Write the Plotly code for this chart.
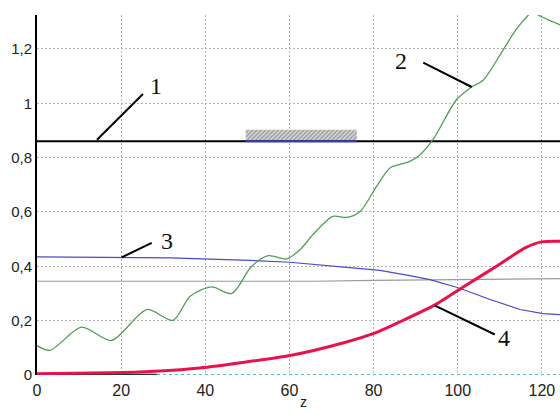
import plotly.graph_objects as go

# ---- data ----
z_green = [0, 3.1, 10.6, 17.7, 26.1, 32.3, 36.4, 41.5, 46.3, 51.0, 55.0, 59.3, 62.5, 65.6, 70.3, 73.6,
           76.8, 80.7, 83.9, 87.0, 88.6, 91.0, 94.1, 99.7, 103.3, 106.1, 110.8, 113.8, 116.8, 117.9, 119.1, 124.3]
v_green = [0.108, 0.091, 0.176, 0.127, 0.241, 0.201, 0.290, 0.324, 0.300, 0.400, 0.439, 0.427, 0.461, 0.517, 0.584, 0.580,
           0.602, 0.694, 0.762, 0.778, 0.786, 0.810, 0.866, 1.013, 1.060, 1.086, 1.197, 1.270, 1.325, 1.340, 1.325, 1.289]

z_blue = [0, 31.6, 50.6, 60.1, 73.6, 81.5, 88.6, 93.4, 100.1, 107.7, 114.8, 120.3, 124.3]
v_blue = [0.435, 0.431, 0.422, 0.415, 0.396, 0.385, 0.366, 0.351, 0.321, 0.278, 0.241, 0.226, 0.222]

z_red = [0, 17.3, 28.0, 38.7, 60.1, 72.7, 80.7, 86.3, 94.6, 101.3, 109.2, 116.0, 119.9, 124.3]
v_red = [0.005, 0.008, 0.014, 0.026, 0.072, 0.118, 0.157, 0.196, 0.258, 0.324, 0.400, 0.468, 0.490, 0.492]

z_grey = [0, 66, 80, 100, 124.3]
v_grey = [0.345, 0.345, 0.348, 0.352, 0.355]

z_black = [0, 124.3]
v_black = [0.86, 0.86]

z_teal = [0, 124.3]
v_teal = [0.0, 0.0]

z_dark = [0, 28.5]
v_dark = [0.001, 0.001]

z_rect = [49.6, 76.0, 76.0, 49.6, 49.6]
v_rect = [0.86, 0.86, 0.903, 0.903, 0.86]
z_rect_base = [49.6, 76.0]
v_rect_base = [0.86, 0.86]

x_ticks = [0, 20, 40, 60, 80, 100, 120]
y_ticks = [0, 0.2, 0.4, 0.6, 0.8, 1.0, 1.2]
y_ticktext = ["0", "0,2", "0,4", "0,6", "0,8", "1", "1,2"]
x_title = "z"

labels = ["1", "2", "3", "4"]
label_pos = [(28.4, 1.062), (86.4, 1.154), (30.8, 0.492), (111.0, 0.137)]
leaders = [((14.26, 0.866), (25.19, 1.034)),
           ((91.8, 1.150), (103.3, 1.060)),
           ((20.13, 0.433), (27.26, 0.486)),
           ((94.6, 0.2555), (108.8, 0.149))]

SANS = "Arial, Liberation Sans, sans-serif"
SERIF = "Times New Roman, Liberation Serif, serif"

fig = go.Figure()

fig.add_trace(go.Scatter(x=z_rect, y=v_rect, fill="toself", mode="none",
                         fillcolor="rgba(0,0,0,0)",
                         fillpattern=dict(shape="/", fgcolor="#555", bgcolor="#d4d4d4", size=3, solidity=0.4),
                         hoverinfo="skip"))
fig.add_trace(go.Scatter(x=z_grey, y=v_grey, mode="lines", line=dict(color="#9a9a9a", width=1.2)))
fig.add_trace(go.Scatter(x=z_black, y=v_black, mode="lines", line=dict(color="#000", width=2)))
fig.add_trace(go.Scatter(x=z_rect_base, y=v_rect_base, mode="lines", line=dict(color="#3a3ac8", width=2)))
fig.add_trace(go.Scatter(x=z_blue, y=v_blue, mode="lines", line=dict(color="#4a4ad0", width=1.2)))
fig.add_trace(go.Scatter(x=z_green, y=v_green, mode="lines", line=dict(color="#4f9f55", width=1.3, shape="spline", smoothing=0.8)))
fig.add_trace(go.Scatter(x=z_teal, y=v_teal, mode="lines", line=dict(color="#44c2c2", width=2, dash="dot")))
fig.add_trace(go.Scatter(x=z_dark, y=v_dark, mode="lines", line=dict(color="#1a3a2a", width=2)))
fig.add_trace(go.Scatter(x=z_red, y=v_red, mode="lines", line=dict(color="#e8124c", width=3, shape="spline", smoothing=0.6)))

for txt, (lx, ly), ((x0, y0), (x1, y1)) in zip(labels, label_pos, leaders):
    fig.add_annotation(x=lx, y=ly, text=txt, showarrow=False, xref="x", yref="y",
                       font=dict(family=SERIF, size=24, color="#111"))
    fig.add_shape(type="line", x0=x0, y0=y0, x1=x1, y1=y1, xref="x", yref="y",
                  line=dict(color="#000", width=2))

fig.add_annotation(x=0.5, y=0, xref="paper", yref="paper", text=x_title, showarrow=False,
                   yanchor="bottom", yshift=-36, xshift=5, borderpad=0,
                   font=dict(family=SANS, size=14, color="#222"))

fig.update_layout(
    width=560, height=412,
    margin=dict(l=37, r=0, t=15, b=37),
    paper_bgcolor="white", plot_bgcolor="white",
    showlegend=False,
    font=dict(family=SANS, color="#222"),
    xaxis=dict(range=[0, 124.3], tickvals=x_ticks, showgrid=True, gridcolor="#b4b4b4", griddash="2px,2px",
               gridwidth=1, zeroline=False, showline=False, ticks="", tickfont=dict(family=SANS, size=16),
               ticklabelstandoff=4, automargin=False),
    yaxis=dict(range=[0, 1.325], tickvals=y_ticks, ticktext=y_ticktext, showgrid=True, gridcolor="#b4b4b4",
               griddash="2px,2px", gridwidth=1, zeroline=False, showline=True, linecolor="#000", linewidth=2,
               ticks="", tickfont=dict(family=SANS, size=15), automargin=False),
)

fig.write_html("out.html")
